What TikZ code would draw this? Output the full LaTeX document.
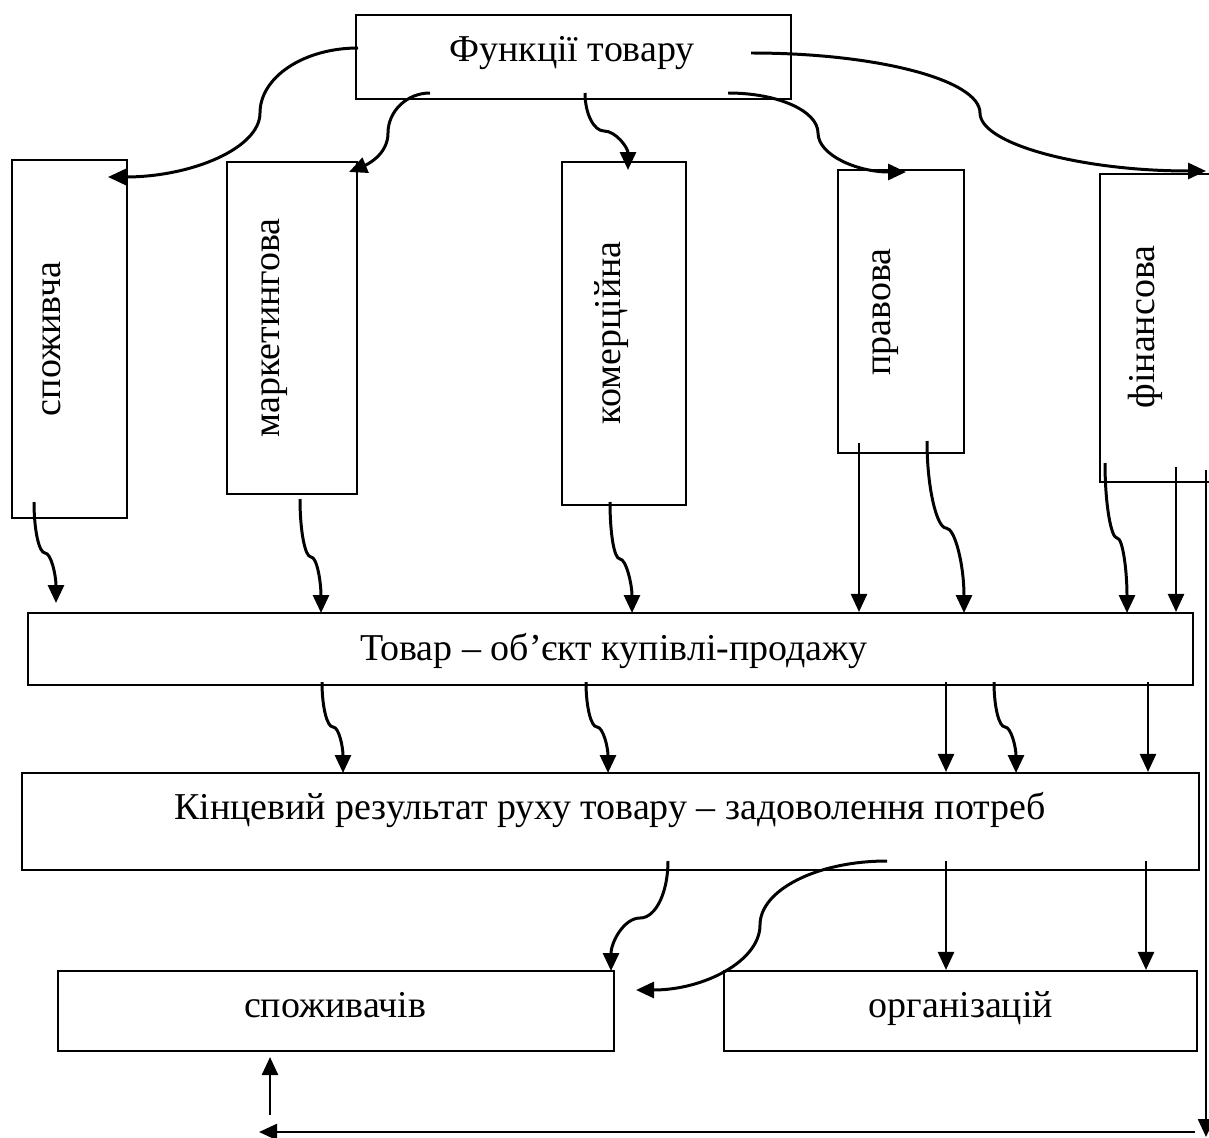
\documentclass[tikz,border=0pt]{standalone}
\usepackage{fontspec}
\setmainfont{Liberation Serif}
\usetikzlibrary{arrows.meta,fit}
\begin{document}
\begin{tikzpicture}[x=0.02cm,y=-0.02cm,
  box/.style={draw, line width=1.2pt, inner sep=0pt, fit={#1}},
  txt/.style={inner sep=0pt, anchor=base, font=\fontsize{21.6pt}{24pt}\selectfont},
  vtxt/.style={txt, rotate=90},
  tip/.style={-{Triangle[length=0.36cm,width=0.32cm]}},
  cv/.style={tip, line width=1.7pt},
  st/.style={tip, line width=1.4pt}]
\clip (0,0) rectangle (1209,1138);

% boxes
\node[box={(356,15)(791,99)}] (top) {};
\node[box={(12,160)(127,518)}] (c1) {};
\node[box={(227,162)(357,494)}] (c2) {};
\node[box={(562,162)(686,505)}] (c3) {};
\node[box={(838,170)(964,453)}] (c4) {};
\node[box={(1100,174)(1240,482)}] (c5) {};
\node[box={(28,613)(1193,685)}] (tovar) {};
\node[box={(22,773)(1199,870)}] (kinc) {};
\node[box={(58,971)(614,1051)}] (spv) {};
\node[box={(724,971)(1197,1051)}] (org) {};

% labels
\node[txt] (top-t) at (572,62) {Функції товару};
\node[vtxt] (c1-t) at (60,339) {споживча};
\node[vtxt] (c2-t) at (279,328) {маркетингова};
\node[vtxt] (c3-t) at (620,333) {комерційна};
\node[vtxt] (c4-t) at (890,312) {правова};
\node[vtxt] (c5-t) at (1154,327) {фінансова};
\node[txt] (tovar-t) at (614,660) {Товар – об’єкт купівлі-продажу};
\node[txt] (kinc-t) at (610,819) {Кінцевий результат руху товару – задоволення потреб};
\node[txt] (spv-t) at (335,1017) {споживачів};
\node[txt] (org-t) at (961,1017) {організацій};

% end points of the connectors
\coordinate (a1s) at (358,48);  \coordinate (a1e) at (108,177);
\coordinate (a2s) at (430,93);  \coordinate (a2e) at (349,172);
\coordinate (a3s) at (585,93);  \coordinate (a3e) at (628,170);
\coordinate (a4s) at (728,93);  \coordinate (a4e) at (906,172);
\coordinate (a5s) at (751,53);  \coordinate (a5e) at (1206,171);
\coordinate (b1s) at (34,502);  \coordinate (b1e) at (56,603);
\coordinate (b2s) at (300,499); \coordinate (b2e) at (321,613);
\coordinate (b3s) at (610,502); \coordinate (b3e) at (632,613);
\coordinate (b4s) at (927,441); \coordinate (b4e) at (964,613);
\coordinate (b5s) at (1105,463); \coordinate (b5e) at (1127,613);
\coordinate (p1s) at (859,443);
\coordinate (p2s) at (1176,467);
\coordinate (c1s) at (322,682); \coordinate (c1e) at (343,773);
\coordinate (c2s) at (586,682); \coordinate (c2e) at (608,773);
\coordinate (c3s) at (994,682); \coordinate (c3e) at (1016,773);
\coordinate (q1s) at (946,682);
\coordinate (q2s) at (1148,682);
\coordinate (d1s) at (668,861); \coordinate (d1e) at (611,971);
\coordinate (d2s) at (887,861);  \coordinate (d2e) at (636,990);
\coordinate (r1s) at (946,861);
\coordinate (r2s) at (1146,861);
\coordinate (up-s) at (270,1115); \coordinate (up-e) at (270,1057);
\coordinate (rv-s) at (1206,470); \coordinate (rv-e) at (1206,1137);
\coordinate (h-s) at (1195,1132); \coordinate (h-e) at (259,1132);

% from the title box to the five functions
\draw[cv] (a1s) .. controls (304,48) and (260,77) .. (260,113) .. controls (260,148) and (192,177) .. (a1e);
\draw[cv] (a2s) .. controls (407,93) and (388,111) .. (388,133) .. controls (388,155) and (366,165) .. (a2e);
\draw[cv] (a3s) .. controls (585,114) and (594,131) .. (604,131) .. controls (616,131) and (628,148) .. (a3e);
\draw[cv] (a4s) .. controls (778,93) and (818,111) .. (818,133) .. controls (818,155) and (857,172) .. (a4e);
\draw[cv] (a5s) .. controls (877,53) and (980,80) .. (980,113) .. controls (980,144) and (1081,171) .. (a5e);

% from the functions to the goods box
\draw[cv] (b1s) .. controls (34,530) and (39,553) .. (45,553) .. controls (51,553) and (56,575) .. (b1e);
\draw[cv] (b2s) .. controls (300,531) and (305,557) .. (311,557) .. controls (317,557) and (321,582) .. (b2e);
\draw[cv] (b3s) .. controls (610,533) and (614,559) .. (620,559) .. controls (626,559) and (632,584) .. (b3e);
\draw[cv] (b4s) .. controls (927,489) and (937,528) .. (946,528) .. controls (955,528) and (964,565) .. (b4e);
\draw[cv] (b5s) .. controls (1105,504) and (1111,538) .. (1117,538) .. controls (1123,538) and (1127,572) .. (b5e);
\draw[st] (p1s) -- (p1s |- tovar.north);
\draw[st] (p2s) -- (p2s |- tovar.north);

% from the goods box to the final result
\draw[cv] (c1s) .. controls (322,707) and (327,727) .. (333,727) .. controls (339,727) and (343,747) .. (c1e);
\draw[cv] (c2s) .. controls (586,707) and (591,727) .. (597,727) .. controls (603,727) and (608,747) .. (c2e);
\draw[cv] (c3s) .. controls (994,707) and (999,727) .. (1005,727) .. controls (1011,727) and (1016,747) .. (c3e);
\draw[st] (q1s) -- (q1s |- kinc.north);
\draw[st] (q2s) -- (q2s |- kinc.north);

% from the final result to consumers and organisations
\draw[cv] (d1s) .. controls (668,892) and (656,918) .. (640,918) .. controls (624,918) and (611,942) .. (d1e);
\draw[cv] (d2s) .. controls (817,861) and (760,890) .. (760,925) .. controls (760,961) and (704,990) .. (d2e);
\draw[st] (r1s) -- (r1s |- org.north);
\draw[st] (r2s) -- (r2s |- org.north);

% return line along the right and bottom
\draw[st] (rv-s) -- (rv-e);
\draw[st] (h-s) -- (h-e);
\draw[st] (up-s) -- (up-e);
\end{tikzpicture}
\end{document}
